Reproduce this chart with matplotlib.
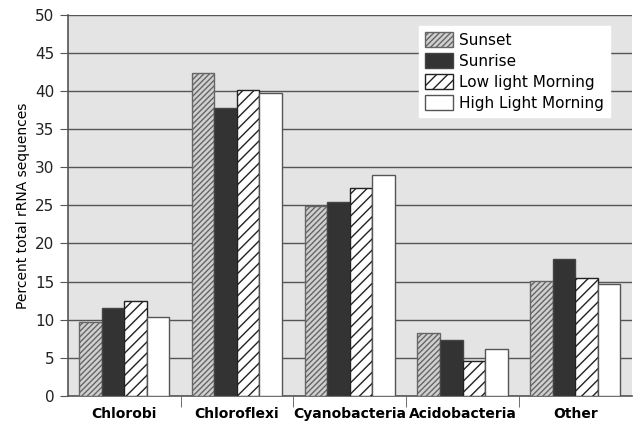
import numpy as np
import matplotlib.pyplot as plt

plt.rcParams['hatch.linewidth'] = 1.0

categories = ['Chlorobi', 'Chloroflexi', 'Cyanobacteria', 'Acidobacteria', 'Other']
series_names = ['Sunset', 'Sunrise', 'Low light Morning', 'High Light Morning']
sunset = [9.7, 42.3, 24.9, 8.2, 15.1]
sunrise = [11.5, 37.8, 25.5, 7.3, 17.9]
low_light = [12.5, 40.1, 27.3, 4.6, 15.5]
high_light = [10.4, 39.7, 29.0, 6.2, 14.7]

fig = plt.figure(figsize=(6.33, 4.23), dpi=100)
ax = fig.add_axes([0.107, 0.064, 0.891, 0.901])
ax.set_facecolor('#e4e4e4')

x = np.arange(len(categories))
w = 0.2
styles = [
    dict(facecolor='#d0d0d0', hatch='//////', edgecolor='#666666'),
    dict(facecolor='#333333', hatch='', edgecolor='#444444'),
    dict(facecolor='white', hatch='///', edgecolor='#222222'),
    dict(facecolor='white', hatch='', edgecolor='#555555'),
]
data = [sunset, sunrise, low_light, high_light]
for i, (vals, name, st) in enumerate(zip(data, series_names, styles)):
    ax.bar(x + (i - 1.5) * w, vals, w, label=name, linewidth=1.0, zorder=3, **st)

ax.set_xlim(-0.5, len(categories) - 0.5)
ax.set_ylim(0, 50)
ax.set_yticks(range(0, 51, 5))
ax.yaxis.grid(True, color='#555555', linewidth=1.0, zorder=0)
ax.set_axisbelow(True)

ax.set_xticks(x)
ax.set_xticklabels(categories, fontsize=10, fontweight='bold')
ax.tick_params(axis='x', length=0, pad=8)
ax.set_xticks(np.arange(0.5, len(categories) - 1, 1), minor=True)
ax.tick_params(axis='x', which='minor', length=8, color='#555555', direction='out')
ax.tick_params(axis='y', length=6, color='#555555', labelsize=11, labelcolor='#222222')
ax.set_ylabel('Percent total rRNA sequences', fontsize=10)

for s in ['top', 'right']:
    ax.spines[s].set_visible(False)
for s in ['left', 'bottom']:
    ax.spines[s].set_color('#555555')
    ax.spines[s].set_linewidth(1.2)

leg = ax.legend(loc='upper right', bbox_to_anchor=(0.975, 0.99), fontsize=11,
                frameon=True, fancybox=False, handlelength=1.8, handleheight=1.1,
                labelspacing=0.35, borderpad=0.4, handletextpad=0.4)
leg.get_frame().set_edgecolor('white')
leg.get_frame().set_facecolor('white')
leg.get_frame().set_alpha(1)

fig.savefig('out.png', dpi=100)
